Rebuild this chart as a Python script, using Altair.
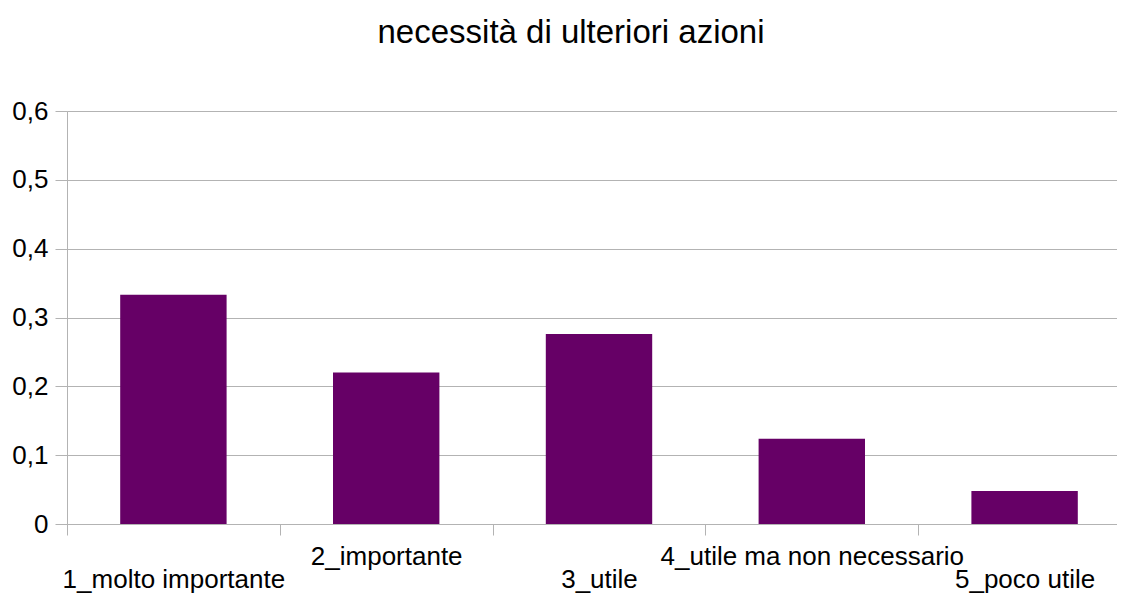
import altair as alt
import pandas as pd

categories = ["1_molto importante", "2_importante", "3_utile",
              "4_utile ma non necessario", "5_poco utile"]
values = [0.333, 0.220, 0.276, 0.124, 0.048]
y_ticks = [0, 0.1, 0.2, 0.3, 0.4, 0.5, 0.6]
upper_row = ["2_importante", "4_utile ma non necessario"]

df = pd.DataFrame({"cat": categories, "val": values})

FONT = "Liberation Sans"
GRID = "#b3b3b3"

upper_test = "indexof([" + ",".join("'" + c + "'" for c in upper_row) + "], datum.value) >= 0"

chart = alt.Chart(df).mark_bar(color="#660066", width={"band": 0.5}).encode(
    x=alt.X("cat:N", sort=categories, title=None,
            scale=alt.Scale(paddingInner=0, paddingOuter=0, range=[0, 1064]),
            axis=alt.Axis(
                labelAngle=0, labelFont=FONT, labelFontSize=26, labelColor="black",
                labelLimit=0, labelBaseline="alphabetic",
                labelPadding={"condition": {"test": upper_test, "value": 29}, "value": 52},
                tickBand="extent", tickSize=11, tickColor=GRID, tickWidth=1,
                domainColor=GRID, domainWidth=1, grid=False)),
    y=alt.Y("val:Q", title=None,
            scale=alt.Scale(domain=[0, 0.6], nice=False, zero=True),
            axis=alt.Axis(
                values=y_ticks,
                labelExpr="datum.value == 0 ? '0' : replace(format(datum.value, '.1f'), '.', ',')",
                labelFont=FONT, labelFontSize=26, labelColor="black", labelPadding=7,
                tickSize=12, tickColor=GRID, domainColor=GRID, gridColor=GRID,
                gridWidth=1, grid=True)),
).properties(
    width=1050, height=413,
    title=alt.TitleParams("necessità di ulteriori azioni", font=FONT, fontSize=33,
                          fontWeight="normal", color="black", anchor="middle",
                          frame="group", dx=-21, offset=22, baseline="alphabetic"),
    autosize=alt.AutoSizeParams(type="none"),
    padding={"left": 59, "top": 103, "right": 0, "bottom": 69},
).configure_view(stroke=None).configure(background="white")

chart.save("out.html", embed_options={"renderer": "svg", "actions": False})
